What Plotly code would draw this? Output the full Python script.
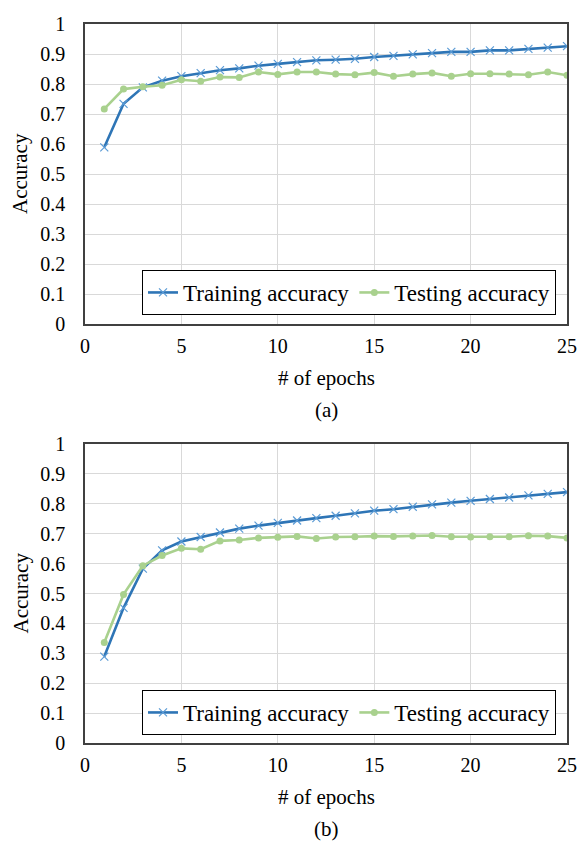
import plotly.graph_objects as go

epochs = list(range(1, 26))

train_a = [0.589, 0.734, 0.789, 0.811, 0.826, 0.836, 0.846, 0.852, 0.861, 0.867,
           0.873, 0.879, 0.881, 0.884, 0.890, 0.894, 0.899, 0.903, 0.907, 0.907,
           0.912, 0.912, 0.917, 0.921, 0.926]
test_a = [0.717, 0.783, 0.791, 0.796, 0.814, 0.809, 0.823, 0.822, 0.840, 0.832,
          0.840, 0.840, 0.833, 0.831, 0.838, 0.826, 0.833, 0.837, 0.826, 0.834,
          0.834, 0.833, 0.831, 0.840, 0.829]
train_b = [0.289, 0.452, 0.583, 0.644, 0.674, 0.689, 0.704, 0.717, 0.727, 0.736,
           0.744, 0.752, 0.760, 0.768, 0.777, 0.782, 0.790, 0.798, 0.804, 0.810,
           0.816, 0.821, 0.828, 0.833, 0.839]
test_b = [0.336, 0.497, 0.593, 0.627, 0.651, 0.648, 0.676, 0.679, 0.686, 0.688,
          0.691, 0.684, 0.689, 0.690, 0.692, 0.691, 0.692, 0.694, 0.690, 0.689,
          0.690, 0.690, 0.693, 0.692, 0.686]

x_ticks = [0, 5, 10, 15, 20, 25]
y_ticks = [round(i * 0.1, 1) for i in range(11)]
y_ticktext = ["0", "0.1", "0.2", "0.3", "0.4", "0.5", "0.6", "0.7", "0.8", "0.9", "1"]

W, H = 579, 841
FONT = "Times New Roman, Liberation Serif, DejaVu Serif, serif"
TRAIN_LINE = "#2E75B6"
TRAIN_MARK = "#5B9BD5"
TEST_COL = "#A9D18E"

fig = go.Figure()

panels = [
    (train_a, test_a, "x", "y", 24, 324, "(a)", 410, "legend"),
    (train_b, test_b, "x2", "y2", 444, 743, "(b)", 829, "legend2"),
]

for tr, te, xa, ya, top, bot, cap, capy, leg in panels:
    fig.add_trace(go.Scatter(
        x=epochs, y=tr, mode="lines+markers", name="Training accuracy",
        xaxis=xa, yaxis=ya, legend=leg,
        line=dict(color=TRAIN_LINE, width=2.6),
        marker=dict(symbol="x-thin", size=8, color=TRAIN_MARK,
                    line=dict(color=TRAIN_MARK, width=1.2)),
    ))
    fig.add_trace(go.Scatter(
        x=epochs, y=te, mode="lines+markers", name="Testing accuracy",
        xaxis=xa, yaxis=ya, legend=leg,
        line=dict(color=TEST_COL, width=2.6),
        marker=dict(symbol="circle", size=7, color=TEST_COL),
    ))

def py(pix):
    return 1 - pix / H

x0, x1 = 85 / W, 567 / W
axis_common = dict(
    showgrid=True, gridcolor="#D9D9D9", gridwidth=1,
    showline=True, linecolor="#404040", linewidth=1.5, mirror=True,
    zeroline=False, ticks="", automargin=False,
    tickfont=dict(family=FONT, size=20, color="#000000"),
)
xax = dict(range=[0, 25], tickvals=x_ticks, ticklabelstandoff=3, **axis_common)
yax = dict(range=[0, 1], tickvals=y_ticks, ticktext=y_ticktext, ticklabelstandoff=14, **axis_common)

legend_style = dict(orientation="h", x=556 / W, xanchor="right", yanchor="bottom",
                    bgcolor="white", bordercolor="#000000", borderwidth=1,
                    font=dict(family=FONT, size=23, color="#000000"),
                    tracegroupgap=0)

fig.update_layout(
    width=W, height=H,
    margin=dict(l=0, r=0, t=0, b=0, autoexpand=False),
    paper_bgcolor="white", plot_bgcolor="white",
    font=dict(family=FONT, color="#000000"),
    xaxis=dict(domain=[x0, x1], anchor="y", **xax),
    yaxis=dict(domain=[py(324), py(24)], anchor="x", **yax),
    xaxis2=dict(domain=[x0, x1], anchor="y2", **xax),
    yaxis2=dict(domain=[py(743), py(444)], anchor="x2", **yax),
    legend=dict(y=py(315), **legend_style),
    legend2=dict(y=py(735), **legend_style),
)

annotations = []
for tr, te, xa, ya, top, bot, cap, capy, leg in panels:
    mid = (top + bot) / 2
    annotations.append(dict(text="Accuracy", x=20 / W, y=py(mid), xref="paper", yref="paper",
                            textangle=-90, showarrow=False, xanchor="center", yanchor="middle",
                            font=dict(family=FONT, size=21, color="#000000")))
    annotations.append(dict(text="# of epochs", x=(85 + 567) / 2 / W, y=py(bot + 54),
                            xref="paper", yref="paper", showarrow=False,
                            xanchor="center", yanchor="middle",
                            font=dict(family=FONT, size=21, color="#000000")))
    annotations.append(dict(text=cap, x=(85 + 567) / 2 / W, y=py(capy),
                            xref="paper", yref="paper", showarrow=False,
                            xanchor="center", yanchor="middle",
                            font=dict(family=FONT, size=21, color="#000000")))
fig.update_layout(annotations=annotations)

fig.write_html("out.html", config={"displayModeBar": False},
               post_script="document.body.style.margin='0px';document.body.style.overflow='hidden';")
